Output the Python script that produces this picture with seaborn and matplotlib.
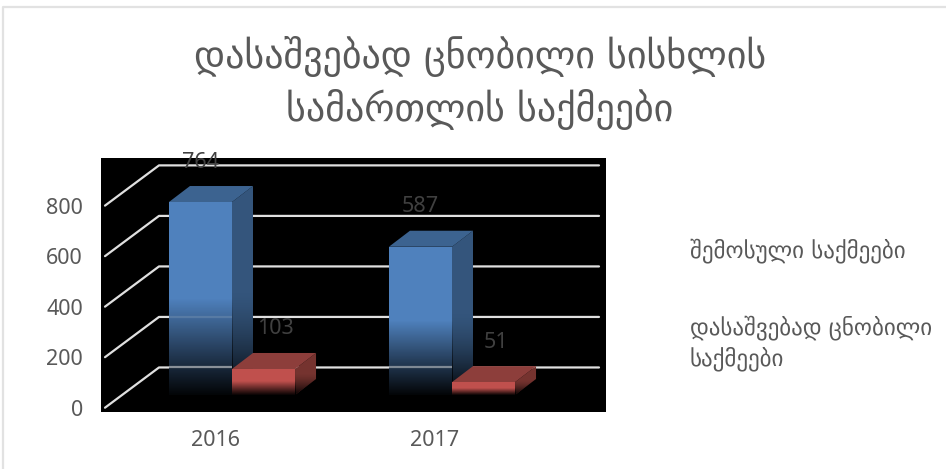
import numpy as np
import pandas as pd
import matplotlib
matplotlib.use("Agg")
import matplotlib.pyplot as plt
from matplotlib.lines import Line2D
from matplotlib.patches import Polygon
import seaborn as sns

# Chart content
title_text = "დასაშვებად ცნობილი სისხლის\nსამართლის საქმეები"
years = ["2016", "2017"]
series_names = ["შემოსული საქმეები", "დასაშვებად ცნობილი საქმეები"]
series_labels = ["შემოსული საქმეები", "დასაშვებად ცნობილი\nსაქმეები"]
received = [764, 587]
admitted = [103, 51]
y_ticks = [0, 200, 400, 600, 800]

# Colours for the front, top and side faces of each series
front_colors = ["#4F81BD", "#C0504D"]
top_colors = ["#3C6390", "#8D3E3B"]
side_colors = ["#34557C", "#75332F"]
text_gray = "#595959"
label_gray = "#404040"
grid_color = "#E0E0E0"

W, H = 946, 469
sns.set_theme(style="white")
plt.rcParams["font.family"] = ["Noto Sans", "DejaVu Sans"]

fig = plt.figure(figsize=(W / 100, H / 100), dpi=100, facecolor="white")

# Only the top and left edges of the outer frame show
fig.add_artist(Line2D([3 / W, 3 / W, 1], [0, 1 - 7 / H, 1 - 7 / H], transform=fig.transFigure,
                      color="#E2E2E2", linewidth=1.6))

# Black plot panel
left, right, top, bottom = 101, 606, 158, 412
ax = fig.add_axes([left / W, 1 - bottom / H, (right - left) / W, (bottom - top) / H])
ax.set_facecolor("black")

df = pd.DataFrame({
    "year": years * 2,
    "value": received + admitted,
    "series": [series_names[0]] * 2 + [series_names[1]] * 2,
})
sns.barplot(data=df, x="year", y="value", hue="series", hue_order=series_names,
            palette=front_colors, width=0.573, saturation=1, legend=False,
            linewidth=0, ax=ax)

# Axis scale: one category step is 220 px, bar bases sit at y = 0
ax.set_xlim((left - 232) / 220, (right - 232) / 220)
ax.set_ylim(-17 / 0.2526, 237 / 0.2526)

# Oblique depth of the bars and of the chart floor, in data units
bar_dx, bar_dy = 21 / 220, 16 / 0.2526
front_shift_x, front_shift_y = -17 / 220, -50.3
back_shift_y = 109.0
wall_dx = 54 / 220
x_back_left = (159 - 232) / 220
x_back_right = (599 - 232) / 220

# Gridlines: a diagonal on the side wall and a horizontal on the back wall
for v in y_ticks:
    ax.plot([x_back_left - wall_dx, x_back_left, x_back_right],
            [v + front_shift_y, v + back_shift_y, v + back_shift_y],
            color=grid_color, lw=1.6, zorder=1, solid_capstyle="round")


def fade(axes, extent, clip, zorder, power=1.0):
    """Black overlay that grows from clear at the top of extent to opaque at its bottom."""
    ramp = np.linspace(0, 1, 128)[:, None] ** power
    rgba = np.zeros((128, 1, 4))
    rgba[..., 3] = ramp * 0.97
    im = axes.imshow(rgba, extent=extent, origin="upper", aspect="auto",
                     zorder=zorder, interpolation="bilinear")
    im.set_clip_path(clip)


bars = list(ax.patches)
n_years = len(years)
for i, bar in enumerate(bars):
    series = i // n_years
    base_z = 2 + series * 2 + (i % n_years) * 4
    x0, w, h = bar.get_x(), bar.get_width(), bar.get_height()
    x1 = x0 + w
    side = Polygon([(x1, 0), (x1 + bar_dx, bar_dy), (x1 + bar_dx, h + bar_dy), (x1, h)],
                   closed=True, facecolor=side_colors[series], edgecolor="none", zorder=base_z)
    roof = Polygon([(x0, h), (x0 + bar_dx, h + bar_dy), (x1 + bar_dx, h + bar_dy), (x1, h)],
                   closed=True, facecolor=top_colors[series], edgecolor="none", zorder=base_z)
    ax.add_patch(side)
    ax.add_patch(roof)
    bar.set_zorder(base_z + 0.2)

    # Lower half of each column dissolves into the black panel
    fade(ax, (x0, x1, 0, h * 0.5), bar, base_z + 0.3)
    fade(ax, (x1, x1 + bar_dx, 0, h * 0.5 + bar_dy * 0.5), side, base_z + 0.1, power=1.5)

    # Gridlines stay faintly visible through the dissolved part of the columns
    for v in y_ticks:
        gy = v + back_shift_y
        frac = gy / (h * 0.5) if h > 0 else 2
        if frac < 1:
            line, = ax.plot([x0, x1 + bar_dx], [gy, gy], color=grid_color, lw=1.6,
                            alpha=(1 - frac) * 0.8, zorder=base_z + 0.4)
            line.set_clip_path(bar if gy <= h else side)

    # Value label floating above the column
    ax.annotate(f"{int(h)}", xy=(x0 + w / 2, h),
                xytext=(12 * series, 40), textcoords="offset pixels",
                ha="center", va="center", fontsize=15.5, color=label_gray,
                annotation_clip=False, zorder=40)

# Tick labels sit on the front edge of the floor
ax.set_yticks([v + front_shift_y for v in y_ticks], [str(v) for v in y_ticks])
ax.set_xticks([k + front_shift_x for k in range(n_years)], years)
ax.set_xlim((left - 232) / 220, (right - 232) / 220)
ax.set_ylim(-17 / 0.2526, 237 / 0.2526)
ax.set_xlabel("")
ax.set_ylabel("")
ax.tick_params(axis="y", length=0, pad=13, labelsize=15.5, labelcolor=text_gray)
ax.tick_params(axis="x", length=0, pad=13, labelsize=15.5, labelcolor=text_gray)
for spine in ax.spines.values():
    spine.set_visible(False)
ax.grid(False)

# Title and series names
fig.text(480 / W, 1 - 83 / H, title_text, ha="center", va="center", fontsize=27.4,
         color=text_gray, linespacing=1.37, family=["DejaVu Sans"])
fig.text(690 / W, 1 - 251 / H, series_labels[0], ha="left", va="center", fontsize=16.6,
         color=text_gray, family=["DejaVu Sans"])
fig.text(690 / W, 1 - 343 / H, series_labels[1], ha="left", va="center", fontsize=16.6,
         color=text_gray, linespacing=1.36, family=["DejaVu Sans"])

fig.savefig("out.png", dpi=100)
